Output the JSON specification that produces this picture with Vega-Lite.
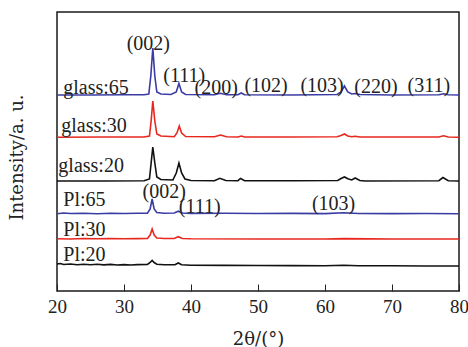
{
  "$schema": "https://vega.github.io/schema/vega-lite/v6.json",
  "width": 402,
  "height": 279,
  "autosize": {"type": "none"},
  "padding": {"left": 57, "top": 12, "right": 9, "bottom": 56},
  "background": "white",
  "config": {
    "view": {"stroke": "#1a1a1a", "strokeWidth": 1.5},
    "font": "Liberation Serif"
  },
  "datasets": {
    "traces": [
      {"s":"glass:65","x":20,"y":196},{"s":"glass:65","x":25,"y":196},{"s":"glass:65","x":30,"y":196.2},{"s":"glass:65","x":33,"y":196.3},{"s":"glass:65","x":33.7,"y":197},{"s":"glass:65","x":34.0,"y":215},{"s":"glass:65","x":34.3,"y":243},{"s":"glass:65","x":34.6,"y":215},{"s":"glass:65","x":34.9,"y":199},{"s":"glass:65","x":35.5,"y":197},{"s":"glass:65","x":37,"y":196.5},{"s":"glass:65","x":37.8,"y":199},{"s":"glass:65","x":38.2,"y":207.5},{"s":"glass:65","x":38.6,"y":199},{"s":"glass:65","x":39.2,"y":196.5},{"s":"glass:65","x":43.5,"y":196.3},{"s":"glass:65","x":44.4,"y":197.7},{"s":"glass:65","x":45.3,"y":196.3},{"s":"glass:65","x":47,"y":196.3},{"s":"glass:65","x":47.5,"y":198},{"s":"glass:65","x":48,"y":196.3},{"s":"glass:65","x":55,"y":196},{"s":"glass:65","x":61.8,"y":196.5},{"s":"glass:65","x":62.4,"y":199},{"s":"glass:65","x":62.9,"y":205},{"s":"glass:65","x":63.4,"y":199},{"s":"glass:65","x":64,"y":197},{"s":"glass:65","x":64.5,"y":197.5},{"s":"glass:65","x":65.2,"y":196.5},{"s":"glass:65","x":70,"y":196},{"s":"glass:65","x":77,"y":196.3},{"s":"glass:65","x":77.7,"y":197.3},{"s":"glass:65","x":78.4,"y":196.2},{"s":"glass:65","x":80,"y":196},
      {"s":"glass:30","x":20,"y":153.8},{"s":"glass:30","x":27,"y":154},{"s":"glass:30","x":33,"y":154},{"s":"glass:30","x":33.8,"y":155},{"s":"glass:30","x":34.05,"y":170},{"s":"glass:30","x":34.3,"y":190},{"s":"glass:30","x":34.6,"y":170},{"s":"glass:30","x":34.9,"y":157},{"s":"glass:30","x":35.5,"y":155},{"s":"glass:30","x":37.5,"y":154.3},{"s":"glass:30","x":37.9,"y":158},{"s":"glass:30","x":38.25,"y":165},{"s":"glass:30","x":38.6,"y":158},{"s":"glass:30","x":39.2,"y":154.5},{"s":"glass:30","x":43.5,"y":154.2},{"s":"glass:30","x":44.4,"y":156},{"s":"glass:30","x":45.3,"y":154.2},{"s":"glass:30","x":47,"y":154},{"s":"glass:30","x":47.5,"y":155},{"s":"glass:30","x":48,"y":154},{"s":"glass:30","x":55,"y":154},{"s":"glass:30","x":61.8,"y":154.2},{"s":"glass:30","x":62.4,"y":155.5},{"s":"glass:30","x":62.9,"y":157},{"s":"glass:30","x":63.4,"y":155},{"s":"glass:30","x":64,"y":154.3},{"s":"glass:30","x":64.5,"y":154.8},{"s":"glass:30","x":65.2,"y":154},{"s":"glass:30","x":70,"y":154},{"s":"glass:30","x":77,"y":154},{"s":"glass:30","x":77.7,"y":155.2},{"s":"glass:30","x":78.4,"y":154},{"s":"glass:30","x":80,"y":153.8},
      {"s":"glass:20","x":20,"y":110},{"s":"glass:20","x":27,"y":110},{"s":"glass:20","x":33,"y":110.2},{"s":"glass:20","x":33.8,"y":112},{"s":"glass:20","x":34.05,"y":128},{"s":"glass:20","x":34.3,"y":144},{"s":"glass:20","x":34.6,"y":128},{"s":"glass:20","x":34.9,"y":114},{"s":"glass:20","x":35.5,"y":111.5},{"s":"glass:20","x":37.3,"y":111},{"s":"glass:20","x":37.8,"y":118},{"s":"glass:20","x":38.2,"y":128},{"s":"glass:20","x":38.6,"y":118},{"s":"glass:20","x":39.1,"y":112},{"s":"glass:20","x":40,"y":110.5},{"s":"glass:20","x":43.5,"y":110.3},{"s":"glass:20","x":44.3,"y":112.7},{"s":"glass:20","x":45.2,"y":110.5},{"s":"glass:20","x":47,"y":110.3},{"s":"glass:20","x":47.4,"y":112.5},{"s":"glass:20","x":48,"y":110.3},{"s":"glass:20","x":55,"y":110.2},{"s":"glass:20","x":61.9,"y":110.5},{"s":"glass:20","x":62.4,"y":112.5},{"s":"glass:20","x":62.9,"y":114},{"s":"glass:20","x":63.5,"y":112},{"s":"glass:20","x":64,"y":111},{"s":"glass:20","x":64.5,"y":113},{"s":"glass:20","x":65.2,"y":110.5},{"s":"glass:20","x":66,"y":110},{"s":"glass:20","x":77,"y":110.3},{"s":"glass:20","x":77.6,"y":113.5},{"s":"glass:20","x":78.4,"y":110.3},{"s":"glass:20","x":80,"y":110},
      {"s":"Pl:65","x":20,"y":77.3},{"s":"Pl:65","x":21,"y":78},{"s":"Pl:65","x":22,"y":77.5},{"s":"Pl:65","x":24,"y":77.8},{"s":"Pl:65","x":26,"y":77.3},{"s":"Pl:65","x":28,"y":77.8},{"s":"Pl:65","x":30,"y":77.5},{"s":"Pl:65","x":32,"y":77.8},{"s":"Pl:65","x":33.5,"y":77.8},{"s":"Pl:65","x":33.9,"y":82},{"s":"Pl:65","x":34.2,"y":92},{"s":"Pl:65","x":34.5,"y":82},{"s":"Pl:65","x":34.9,"y":78.5},{"s":"Pl:65","x":36,"y":77.8},{"s":"Pl:65","x":37.5,"y":78},{"s":"Pl:65","x":38.1,"y":79.8},{"s":"Pl:65","x":38.7,"y":78},{"s":"Pl:65","x":40,"y":77.6},{"s":"Pl:65","x":45,"y":77.7},{"s":"Pl:65","x":50,"y":77.5},{"s":"Pl:65","x":55,"y":77.6},{"s":"Pl:65","x":60,"y":77.4},{"s":"Pl:65","x":62.8,"y":78.3},{"s":"Pl:65","x":65,"y":77.5},{"s":"Pl:65","x":70,"y":77.4},{"s":"Pl:65","x":75,"y":77.5},{"s":"Pl:65","x":80,"y":77.3},
      {"s":"Pl:30","x":20,"y":52.3},{"s":"Pl:30","x":22,"y":52},{"s":"Pl:30","x":24,"y":52.5},{"s":"Pl:30","x":26,"y":52.2},{"s":"Pl:30","x":28,"y":52.5},{"s":"Pl:30","x":30,"y":52.2},{"s":"Pl:30","x":32,"y":52.4},{"s":"Pl:30","x":33.5,"y":52.6},{"s":"Pl:30","x":33.9,"y":56},{"s":"Pl:30","x":34.2,"y":62},{"s":"Pl:30","x":34.5,"y":56},{"s":"Pl:30","x":34.9,"y":53},{"s":"Pl:30","x":36,"y":52.5},{"s":"Pl:30","x":37.5,"y":52.5},{"s":"Pl:30","x":38.1,"y":54.3},{"s":"Pl:30","x":38.7,"y":52.5},{"s":"Pl:30","x":40,"y":52.2},{"s":"Pl:30","x":50,"y":52},{"s":"Pl:30","x":60,"y":52},{"s":"Pl:30","x":62.8,"y":52.4},{"s":"Pl:30","x":70,"y":52},{"s":"Pl:30","x":80,"y":52},
      {"s":"Pl:20","x":20,"y":27},{"s":"Pl:20","x":20.5,"y":27.5},{"s":"Pl:20","x":21,"y":26.5},{"s":"Pl:20","x":22,"y":27},{"s":"Pl:20","x":23,"y":26.3},{"s":"Pl:20","x":24,"y":26.8},{"s":"Pl:20","x":25,"y":26.2},{"s":"Pl:20","x":26,"y":26.7},{"s":"Pl:20","x":27,"y":26.1},{"s":"Pl:20","x":28,"y":26.6},{"s":"Pl:20","x":29,"y":26},{"s":"Pl:20","x":30,"y":26.4},{"s":"Pl:20","x":31,"y":26},{"s":"Pl:20","x":32,"y":26.4},{"s":"Pl:20","x":33.5,"y":26.5},{"s":"Pl:20","x":33.9,"y":28.5},{"s":"Pl:20","x":34.2,"y":30.5},{"s":"Pl:20","x":34.5,"y":28.5},{"s":"Pl:20","x":34.9,"y":26.8},{"s":"Pl:20","x":36,"y":26.2},{"s":"Pl:20","x":37.6,"y":26.3},{"s":"Pl:20","x":38.1,"y":28},{"s":"Pl:20","x":38.6,"y":26.3},{"s":"Pl:20","x":40,"y":25.8},{"s":"Pl:20","x":45,"y":25.6},{"s":"Pl:20","x":50,"y":25.5},{"s":"Pl:20","x":55,"y":25.4},{"s":"Pl:20","x":60,"y":25.3},{"s":"Pl:20","x":62.8,"y":25.8},{"s":"Pl:20","x":65,"y":25.2},{"s":"Pl:20","x":70,"y":25.2},{"s":"Pl:20","x":75,"y":25},{"s":"Pl:20","x":80,"y":25}
    ],
    "labels": [
      {"t":"glass:65","x":20.94,"y":197},
      {"t":"glass:30","x":20.64,"y":159},
      {"t":"glass:20","x":20.2,"y":119},
      {"t":"Pl:65","x":20.94,"y":85},
      {"t":"Pl:30","x":20.94,"y":55},
      {"t":"Pl:20","x":20.94,"y":30}
    ],
    "hkl": [
      {"t":"(002)","x":33.63,"y":241},
      {"t":"(111)","x":38.99,"y":209},
      {"t":"(200)","x":43.76,"y":197},
      {"t":"(102)","x":51.2,"y":199},
      {"t":"(103)","x":59.56,"y":199},
      {"t":"(220)","x":67.6,"y":198},
      {"t":"(311)","x":75.5,"y":199},
      {"t":"(002)","x":36.0,"y":93},
      {"t":"(111)","x":41.3,"y":78},
      {"t":"(103)","x":61.28,"y":81}
    ]
  },
  "layer": [
    {
      "data": {"name": "traces"},
      "mark": {"type": "line", "strokeWidth": 1.6, "interpolate": "linear"},
      "encoding": {
        "x": {
          "field": "x", "type": "quantitative",
          "scale": {"domain": [20, 80], "nice": false, "zero": false},
          "axis": {
            "values": [20, 30, 40, 50, 60, 70, 80],
            "title": "2θ/(°)",
            "titleFont": "DejaVu Serif", "titleFontSize": 18, "titleFontWeight": "normal", "titleColor": "#222",
            "titleY": 48, "titleBaseline": "middle",
            "labelFont": "Liberation Serif", "labelFontSize": 19, "labelColor": "#222",
            "labelFlush": false, "labelPadding": 13,
            "tickSize": -7, "tickColor": "#222", "tickWidth": 1,
            "domain": false, "grid": false
          }
        },
        "y": {
          "field": "y", "type": "quantitative",
          "scale": {"domain": [0, 279], "nice": false, "zero": false},
          "axis": {
            "title": "Intensity/a. u.",
            "titleFont": "DejaVu Serif", "titleFontSize": 18, "titleFontWeight": "normal", "titleColor": "#222",
            "titleX": -40, "titleY": 145, "titleAngle": -90, "titleBaseline": "middle", "titleAlign": "center",
            "labels": false, "ticks": false, "domain": false, "grid": false
          }
        },
        "color": {
          "field": "s", "type": "nominal",
          "scale": {
            "domain": ["glass:65", "glass:30", "glass:20", "Pl:65", "Pl:30", "Pl:20"],
            "range": ["#3b3ca3", "#e8281e", "#111111", "#3b3ca3", "#e8281e", "#111111"]
          },
          "legend": null
        }
      }
    },
    {
      "data": {"name": "labels"},
      "mark": {"type": "text", "align": "left", "baseline": "alphabetic", "font": "Liberation Serif", "fontSize": 20, "color": "#222"},
      "encoding": {
        "x": {"field": "x", "type": "quantitative"},
        "y": {"field": "y", "type": "quantitative"},
        "text": {"field": "t"}
      }
    },
    {
      "data": {"name": "hkl"},
      "mark": {"type": "text", "align": "center", "baseline": "alphabetic", "font": "Liberation Serif", "fontSize": 20, "color": "#222"},
      "encoding": {
        "x": {"field": "x", "type": "quantitative"},
        "y": {"field": "y", "type": "quantitative"},
        "text": {"field": "t"}
      }
    }
  ]
}
